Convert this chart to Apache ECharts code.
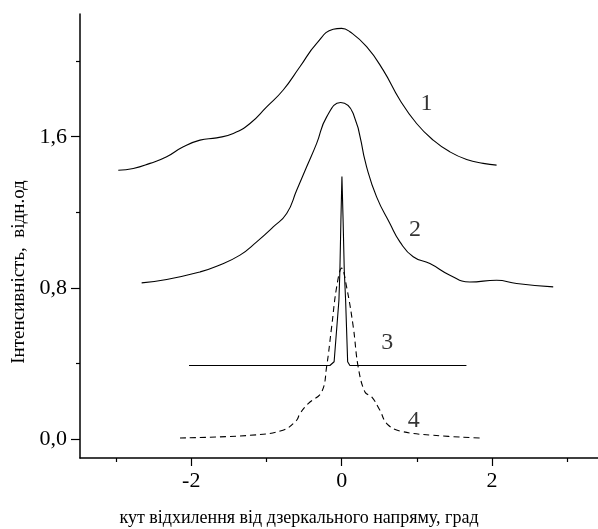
<!DOCTYPE html>
<html><head><meta charset="utf-8">
<script src="https://cdn.jsdelivr.net/npm/echarts@6/dist/echarts.min.js"></script>
<style>html,body{margin:0;padding:0;background:#fff}#c{width:598px;height:529px}</style>
</head><body><div id="c"></div>
<script>
// Curve 1
const c1x = [-2.971,-2.771,-2.549,-2.327,-2.106,-1.884,-1.662,-1.441,-1.219,-0.997,-0.777,-0.555,-0.332,-0.112,0.0,0.110,0.332,0.553,0.775,0.997,1.218,1.440,1.662,1.883,2.061];
const c1y = [1.423,1.432,1.459,1.494,1.547,1.582,1.594,1.617,1.670,1.758,1.847,1.970,2.094,2.168,2.173,2.155,2.076,1.952,1.794,1.670,1.582,1.520,1.480,1.459,1.450];
// Curve 2
const c2x = [-2.660,-2.327,-1.884,-1.662,-1.352,-1.130,-0.910,-0.731,-0.598,-0.465,-0.332,-0.199,-0.013,0.154,0.332,0.465,0.642,0.775,0.952,1.174,1.440,1.706,2.061,2.327,2.814];
const c2y = [0.827,0.845,0.885,0.915,0.974,1.044,1.123,1.194,1.317,1.441,1.565,1.705,1.781,1.723,1.441,1.282,1.141,1.044,0.965,0.929,0.868,0.832,0.841,0.824,0.806];
// Curve 3
const c3x = [-2.03,-1.0,-0.5,-0.156,-0.10,-0.036,-0.023,-0.01,0.004,0.02,0.035,0.053,0.08,0.11,0.5,1.0,1.66];
const c3y = [0.39,0.39,0.39,0.39,0.41,0.735,0.894,1.15,1.39,1.15,0.894,0.735,0.41,0.39,0.39,0.39,0.39];
// Curve 4 (dashed)
const c4x = [-2.15,-1.22,-0.78,-0.6,-0.555,-0.444,-0.266,-0.2,-0.133,-0.066,0.0,0.066,0.155,0.22,0.31,0.4,0.51,0.6,0.775,1.22,1.84];
const c4y = [0.007,0.021,0.048,0.1,0.136,0.189,0.25,0.383,0.594,0.806,0.905,0.806,0.594,0.383,0.25,0.224,0.153,0.083,0.044,0.021,0.007];
// Curve number labels
const lblText = ['1','2','3','4'];
const lblX = [1.13,0.975,0.606,0.96];
const lblY = [1.777,1.106,0.51,0.097];
// Ticks
const xMajor = [-2,0,2];
const xMinor = [-3,-1,1,3];
const yMajor = [0,0.8,1.6];
const yMinor = [0.4,1.2,2.0];
const xTitle = 'кут відхилення від дзеркального напряму, град';
const yTitle = 'Інтенсивність,  відн.од';

const zip = (a,b) => a.map((v,i)=>[v,b[i]]);
const FONT = '"Liberation Serif","Times New Roman",serif';
const XMIN=-3.48, XMAX=3.41, YMIN=-0.099, YMAX=2.249;
const chart = echarts.init(document.getElementById('c'), null, {renderer:'canvas'});
const lineStyle = {color:'#000', width:1.1};
const baseX = {type:'value', min:XMIN, max:XMAX, splitLine:{show:false}};
const baseY = {type:'value', min:YMIN, max:YMAX, splitLine:{show:false}};
chart.setOption({
  animation:false,
  grid:{left:80, right:0, top:14, bottom:71},
  xAxis:[
    Object.assign({}, baseX, {
      axisLine:{show:true, onZero:false, lineStyle:{color:'#000', width:1.5}},
      axisTick:{show:true, length:8, customValues:xMajor, lineStyle:{color:'#000', width:1.2}},
      axisLabel:{show:true, customValues:xMajor, margin:12, color:'#000', fontFamily:FONT, fontSize:22,
        formatter:v=>String(v)}
    }),
    Object.assign({}, baseX, {position:'bottom',
      axisLine:{show:false, onZero:false},
      axisTick:{show:true, length:4, customValues:xMinor, lineStyle:{color:'#000', width:1.2}},
      axisLabel:{show:false}
    })
  ],
  yAxis:[
    Object.assign({}, baseY, {
      axisLine:{show:true, onZero:false, lineStyle:{color:'#000', width:1.5}},
      axisTick:{show:true, length:9, customValues:yMajor, lineStyle:{color:'#000', width:1.2}},
      axisLabel:{show:true, customValues:yMajor, margin:13, color:'#000', fontFamily:FONT, fontSize:22,
        formatter:v=>v.toFixed(1).replace('.',',')}
    }),
    Object.assign({}, baseY, {position:'left',
      axisLine:{show:false, onZero:false},
      axisTick:{show:true, length:4, customValues:yMinor, lineStyle:{color:'#000', width:1.2}},
      axisLabel:{show:false}
    })
  ],
  graphic:[
    {type:'text', x:299, y:518, style:{text:xTitle, fill:'#000', font:'18px '+FONT, align:'center', verticalAlign:'middle'}},
    {type:'text', x:19, y:272, rotation:Math.PI/2, style:{text:yTitle, fill:'#000', font:'19px '+FONT, align:'center', verticalAlign:'middle'}}
  ],
  series:[
    {type:'line', data:zip(c1x,c1y), smooth:0.5, showSymbol:false, lineStyle},
    {type:'line', data:zip(c2x,c2y), smooth:0.5, showSymbol:false, lineStyle},
    {type:'line', data:zip(c3x,c3y), smooth:false, showSymbol:false, lineStyle},
    {type:'line', data:zip(c4x,c4y), smooth:0.4, showSymbol:false, lineStyle:{color:'#000', width:1.1, type:[6,4]}},
    {type:'scatter', symbolSize:0, data:lblX.map((x,i)=>({value:[x,lblY[i]], name:lblText[i]})),
      label:{show:true, position:'inside', formatter:p=>p.name, color:'#000', fontFamily:FONT, fontSize:24}}
  ]
});
</script></body></html>
